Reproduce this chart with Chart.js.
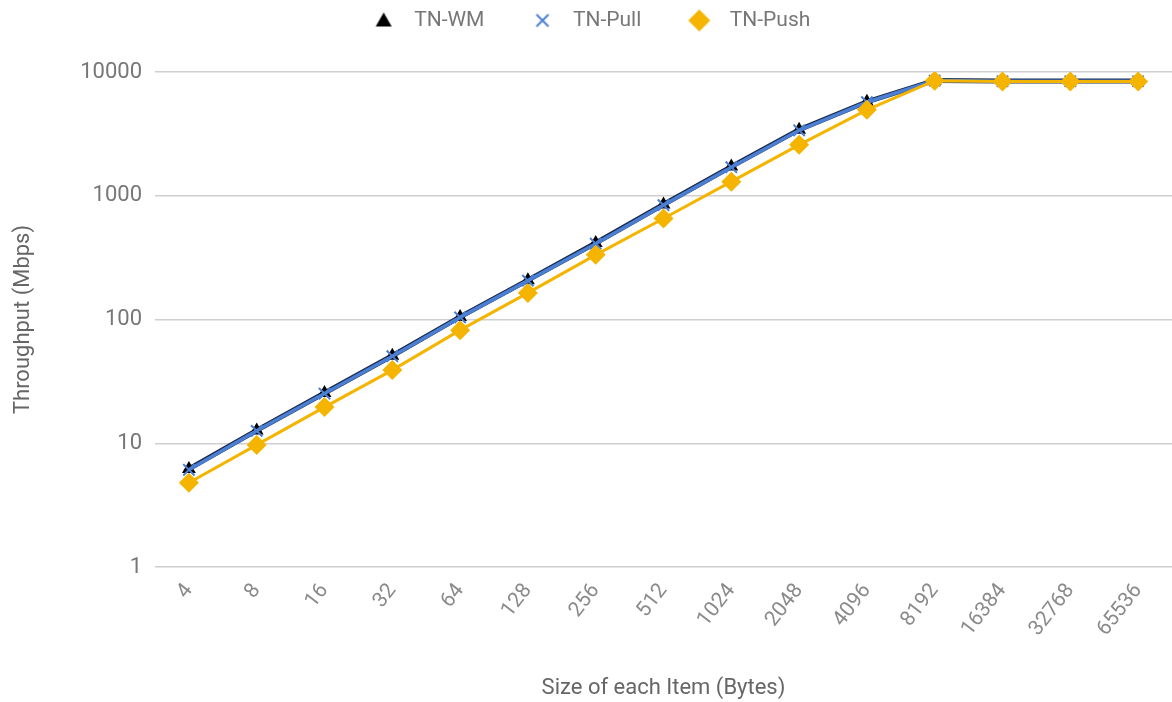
<!DOCTYPE html>
<html>
<head>
<meta charset="utf-8">
<title>Throughput vs item size</title>
<script src="https://cdn.jsdelivr.net/npm/chart.js@4/dist/chart.umd.min.js"></script>
<style>
  html, body { margin: 0; padding: 0; background: #ffffff; overflow: hidden; }
</style>
</head>
<body>
<canvas id="chart" width="1172" height="702"></canvas>
<script>
// Item sizes in bytes (x categories)
const sizes = ['4', '8', '16', '32', '64', '128', '256', '512', '1024', '2048', '4096', '8192', '16384', '32768', '65536'];

// Throughput in Mbps per series
const tnWM   = [6.2, 12.7, 25.5, 51, 105, 208, 415, 850, 1720, 3420, 5750, 8550, 8450, 8450, 8450];
const tnPull = [6.1, 12.6, 25.2, 50.5, 104, 206, 410, 840, 1700, 3380, 5700, 8520, 8420, 8420, 8420];
const tnPush = [4.8, 9.7, 19.6, 39, 82, 164, 333, 655, 1300, 2580, 4950, 8500, 8380, 8380, 8380];

// Log-axis tick values
const yTicks = [1, 10, 100, 1000, 10000];

const FONT = 'Roboto, "Liberation Sans", Arial, sans-serif';
const TEXT = '#777777';
const BLACK = '#000000';
const BLUE = '#4a7fd4';
const GOLD = '#f4b400';

// Legend marker images: a wide canvas with the marker near its right side,
// so the marker sits close to its label with room before it.
const LEG_W = 68, LEG_H = 26, LEG_X = 48;
function legendMarker(draw) {
  const c = document.createElement('canvas');
  c.width = LEG_W; c.height = LEG_H;
  const g = c.getContext('2d');
  draw(g, LEG_X, LEG_H / 2);
  return c;
}
const legendIcons = [
  legendMarker((g, x, y) => {
    g.fillStyle = BLACK;
    g.beginPath();
    g.moveTo(x, y - 8); g.lineTo(x + 8, y + 6); g.lineTo(x - 8, y + 6);
    g.closePath(); g.fill();
  }),
  legendMarker((g, x, y) => {
    g.strokeStyle = BLUE; g.lineWidth = 2;
    g.beginPath();
    g.moveTo(x - 6, y - 6); g.lineTo(x + 6, y + 6);
    g.moveTo(x + 6, y - 6); g.lineTo(x - 6, y + 6);
    g.stroke();
  }),
  legendMarker((g, x, y) => {
    g.fillStyle = GOLD;
    g.beginPath();
    g.moveTo(x, y - 11); g.lineTo(x + 11, y); g.lineTo(x, y + 11); g.lineTo(x - 11, y);
    g.closePath(); g.fill();
  })
];

// Fixed legend band height so the plot starts at the same place,
// and the legend row nudged a little left of centre.
const legendBandPlugin = {
  id: 'legendBand',
  beforeInit(chart) {
    const fit = chart.legend.fit;
    chart.legend.fit = function () {
      fit.call(this);
      this.height = 72;
    };
  },
  afterLayout(chart) {
    chart.legend.right -= 26;
  }
};

new Chart(document.getElementById('chart'), {
  type: 'line',
  data: {
    labels: sizes,
    datasets: [
      {
        label: 'TN-WM',
        data: tnWM,
        order: 2,
        borderColor: '#1a2a4a',
        backgroundColor: BLACK,
        borderWidth: 5,
        pointStyle: 'triangle',
        pointRadius: 8,
        pointHoverRadius: 8,
        pointBorderWidth: 0,
        tension: 0
      },
      {
        label: 'TN-Pull',
        data: tnPull,
        order: 1,
        borderColor: BLUE,
        backgroundColor: BLUE,
        borderWidth: 3.5,
        pointStyle: 'crossRot',
        pointRadius: 8,
        pointHoverRadius: 8,
        pointBorderWidth: 2,
        tension: 0
      },
      {
        label: 'TN-Push',
        data: tnPush,
        order: 0,
        borderColor: GOLD,
        backgroundColor: GOLD,
        borderWidth: 3,
        pointStyle: 'rectRot',
        pointRadius: 10,
        pointHoverRadius: 10,
        pointBorderWidth: 0,
        tension: 0
      }
    ]
  },
  plugins: [legendBandPlugin],
  options: {
    responsive: false,
    animation: false,
    layout: { padding: 0, autoPadding: false },
    plugins: {
      tooltip: { enabled: false },
      legend: {
        display: true,
        position: 'top',
        align: 'center',
        labels: {
          font: { family: FONT, size: 21 },
          color: TEXT,
          padding: 10,
          usePointStyle: true,
          pointStyleWidth: LEG_W,
          boxHeight: 21,
          generateLabels(chart) {
            const items = Chart.defaults.plugins.legend.labels.generateLabels(chart);
            items.sort((a, b) => a.datasetIndex - b.datasetIndex);
            items.forEach(it => { it.pointStyle = legendIcons[it.datasetIndex]; });
            return items;
          }
        }
      }
    },
    scales: {
      x: {
        type: 'category',
        offset: true,
        grid: { display: false, drawTicks: false },
        border: { display: false },
        ticks: {
          font: { family: FONT, size: 21 },
          color: '#8a8a8a',
          minRotation: 52,
          maxRotation: 52,
          padding: 12,
          autoSkip: false
        },
        title: {
          display: true,
          text: 'Size of each Item (Bytes)',
          font: { family: FONT, size: 22 },
          color: '#666666',
          padding: { top: 0, bottom: 0 }
        },
        afterFit(scale) {
          scale.height = 135;
          scale.paddingLeft = 0;
          scale.paddingRight = 0;
        }
      },
      y: {
        type: 'logarithmic',
        min: 1,
        max: 10000,
        grid: { color: '#cfcfcf', lineWidth: 1.5, drawTicks: false },
        border: { display: false },
        ticks: {
          font: { family: FONT, size: 22 },
          color: TEXT,
          padding: 13,
          callback: (v) => String(v)
        },
        afterBuildTicks(scale) {
          scale.ticks = yTicks.map(v => ({ value: v }));
        },
        title: {
          display: true,
          text: 'Throughput (Mbps)',
          font: { family: FONT, size: 22 },
          color: '#666666',
          padding: { top: 10, bottom: 0 }
        },
        afterFit(scale) { scale.width = 155; }
      }
    }
  }
});
</script>
</body>
</html>
